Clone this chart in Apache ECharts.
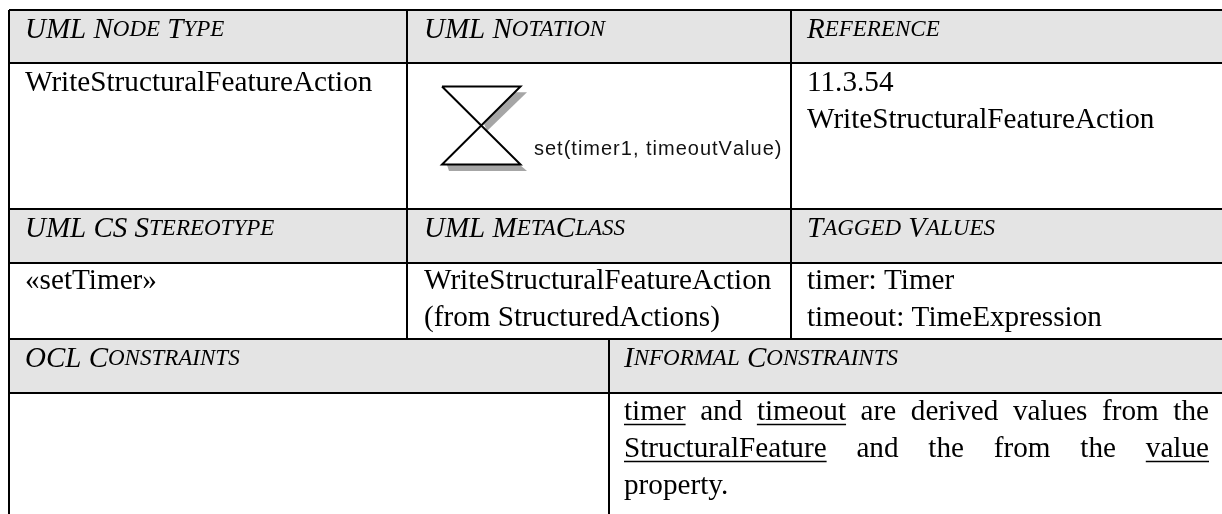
<!DOCTYPE html>
<html>
<head>
<meta charset="utf-8">
<style>html,body{margin:0;padding:0;background:#fff}#main{width:1222px;height:514px}</style>
<script src="https://cdn.jsdelivr.net/npm/echarts@6/dist/echarts.min.js"></script>
</head>
<body>
<div id="main"></div>
<script>
// table contents
const headersTop = ['UML Node Type', 'UML Notation', 'Reference'];
const headersMid = ['UML CS Stereotype', 'UML MetaClass', 'Tagged Values'];
const headersLow = ['OCL Constraints', 'Informal Constraints'];
const nodeType = ['WriteStructuralFeatureAction'];
const reference = ['11.3.54', 'WriteStructuralFeatureAction'];
const stereotype = ['«setTimer»'];
const metaClass = ['WriteStructuralFeatureAction', '(from StructuredActions)'];
const taggedValues = ['timer: Timer', 'timeout: TimeExpression'];
const notationLabel = 'set(timer1, timeoutValue)';
// _word_ is underlined
const informal = [
  '_timer_ and _timeout_ are derived values from the',
  '_StructuralFeature_ and the from the _value_'
];
const informalLast = 'property.';

// table layout, axis units are pixels
const W = 1222, H = 514;
const SERIF = '"Liberation Serif"';
const BODY_SIZE = 29.2;
const BASE_SHIFT = 23; // top of the text box to its baseline
const col = { a: 9, b: 407, c: 791, d: 609, end: 1222 };
const row = { top: 10, h1: 63, r1: 209, h2: 263, r2: 339, h3: 393, end: 514 };
const textX = { a: 25, b: 424, c: 807, d: 624, right: 1209 };

const greyBands = [
  [col.a, row.top, col.end, row.h1],
  [col.a, row.r1, col.end, row.h2],
  [col.a, row.r2, col.end, row.h3]
];
const rules = [
  [col.a, row.top, col.end, row.top],
  [col.a, row.h1, col.end, row.h1],
  [col.a, row.r1, col.end, row.r1],
  [col.a, row.h2, col.end, row.h2],
  [col.a, row.r2, col.end, row.r2],
  [col.a, row.h3, col.end, row.h3],
  [col.a, row.top, col.a, row.end],
  [col.b, row.top, col.b, row.r2],
  [col.c, row.top, col.c, row.r2],
  [col.d, row.r2, col.d, row.end]
];

// small caps as rich text: capitals stay big, the rest shrinks
function smallCaps(s) {
  return s.replace(/[a-z]+|[A-Z ]+/g, m =>
    /[a-z]/.test(m) ? '{s|' + m.toUpperCase() + '}' : '{b|' + m + '}');
}
const measureCtx = document.createElement('canvas').getContext('2d');
function textWidth(s) {
  measureCtx.font = BODY_SIZE + 'px ' + SERIF;
  return measureCtx.measureText(s).width;
}

const headerItems = [];
[[headersTop, 38, ['a', 'b', 'c']], [headersMid, 237, ['a', 'b', 'c']], [headersLow, 367, ['a', 'd']]]
  .forEach(([labels, y, cols]) => labels.forEach((t, i) => headerItems.push([textX[cols[i]], y, t])));

const bodyItems = [];
function addLines(lines, x, y) {
  lines.forEach((t, i) => bodyItems.push([x, y + i * 37, t]));
}
addLines(nodeType, textX.a, 92);
addLines(reference, textX.c, 92);
addLines(stereotype, textX.a, 290);
addLines(metaClass, textX.b, 290);
addLines(taggedValues, textX.c, 290);
addLines([informalLast], textX.d, 495);

// justified lines of the informal constraints cell
const underlines = [];
informal.forEach((line, i) => {
  const words = line.split(' ');
  const plain = words.map(w => w.replace(/_/g, ''));
  const total = plain.reduce((a, w) => a + textWidth(w), 0);
  const gap = (textX.right - textX.d - total) / (words.length - 1);
  const y = 421 + i * 37;
  let x = textX.d;
  words.forEach((w, j) => {
    const wd = textWidth(plain[j]);
    bodyItems.push([x, y, plain[j]]);
    if (w[0] === '_') underlines.push([x, y + 3.5, x + wd, y + 3.5]);
    x += wd + gap;
  });
});

const hourglassLine = [[442, 86.5], [520.5, 86.5], [442, 164.5], [520.5, 164.5], [442, 86.5]];
const hourglassShadow = [
  [[484, 124], [514, 92.3], [527, 92.3], [487, 131]],
  [[447, 165], [520, 165], [527, 171], [449, 171]]
];

function lineSeries(data, width) {
  return {
    type: 'custom', coordinateSystem: 'cartesian2d', silent: true, data,
    renderItem: (p, api) => {
      const a = api.coord([api.value(0), api.value(1)]);
      const b = api.coord([api.value(2), api.value(3)]);
      return {
        type: 'line',
        shape: { x1: a[0], y1: a[1], x2: b[0], y2: b[1] },
        style: { stroke: '#000', lineWidth: width }
      };
    }
  };
}

const chart = echarts.init(document.getElementById('main'), null, { renderer: 'canvas' });
chart.setOption({
  animation: false,
  backgroundColor: '#fff',
  grid: { left: 0, right: 0, top: 0, bottom: 0 },
  xAxis: { type: 'value', min: 0, max: W, show: false },
  yAxis: { type: 'value', min: 0, max: H, inverse: true, show: false },
  series: [
    {
      type: 'custom', silent: true, data: greyBands,
      renderItem: (p, api) => {
        const a = api.coord([api.value(0), api.value(1)]);
        const b = api.coord([api.value(2), api.value(3)]);
        return {
          type: 'rect',
          shape: { x: a[0], y: a[1], width: b[0] - a[0], height: b[1] - a[1] },
          style: { fill: '#e4e4e4' }
        };
      }
    },
    lineSeries(rules, 2),
    lineSeries(underlines, 1.3),
    {
      type: 'custom', silent: true, data: hourglassShadow.map((_, i) => [i]),
      renderItem: (p, api) => ({
        type: 'polygon',
        shape: { points: hourglassShadow[api.value(0)].map(q => api.coord(q)) },
        style: { fill: '#a6a6a6' }
      })
    },
    {
      type: 'custom', silent: true, data: [[0]],
      renderItem: (p, api) => ({
        type: 'polyline',
        shape: { points: hourglassLine.map(q => api.coord(q)) },
        style: { stroke: '#000', lineWidth: 2, fill: 'none' }
      })
    },
    {
      type: 'custom', silent: true, data: headerItems,
      renderItem: (p, api) => {
        const a = api.coord([api.value(0), api.value(1)]);
        return {
          type: 'text', x: a[0], y: a[1] + 10,
          style: {
            text: smallCaps(headerItems[p.dataIndex][2]),
            verticalAlign: 'bottom',
            rich: {
              b: { fontFamily: SERIF, fontStyle: 'italic', fontSize: 29, fill: '#000', lineHeight: 36 },
              s: { fontFamily: SERIF, fontStyle: 'italic', fontSize: 23, fill: '#000', lineHeight: 36 }
            }
          }
        };
      }
    },
    {
      type: 'custom', silent: true, data: bodyItems,
      renderItem: (p, api) => {
        const a = api.coord([api.value(0), api.value(1)]);
        return {
          type: 'text', x: a[0], y: a[1] - BASE_SHIFT,
          style: {
            text: bodyItems[p.dataIndex][2],
            fontFamily: SERIF, fontSize: BODY_SIZE, fill: '#000'
          }
        };
      }
    },
    {
      type: 'custom', silent: true, data: [[534, 155]],
      renderItem: (p, api) => {
        const a = api.coord([api.value(0), api.value(1)]);
        return {
          type: 'text', x: a[0], y: a[1] + 6,
          style: {
            // loose letter spacing, one token per character
            text: notationLabel.split('').map(ch => '{c|' + ch + '}').join(''),
            verticalAlign: 'bottom',
            rich: {
              c: { fontFamily: '"Liberation Sans"', fontSize: 20, fill: '#111', lineHeight: 24, padding: [0, 1, 0, 0] }
            }
          }
        };
      }
    }
  ]
});
</script>
</body>
</html>
